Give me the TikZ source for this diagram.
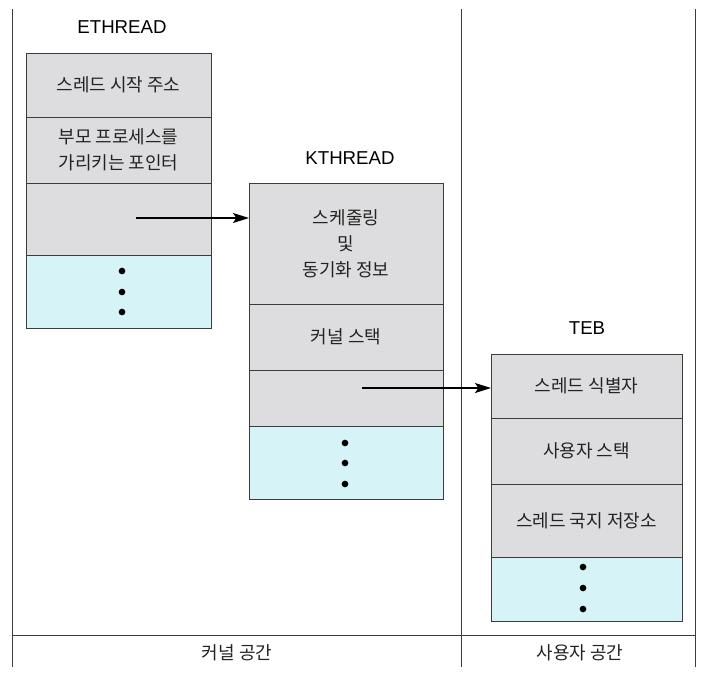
\documentclass[tikz,border=0pt]{standalone}
\usepackage{fontspec}
\setmainfont{Noto Sans CJK KR}
\newfontfamily\latinfont{Liberation Sans}
\usetikzlibrary{arrows.meta}
\definecolor{cellgray}{RGB}{221,221,223}
\definecolor{cellcyan}{RGB}{214,244,248}
\definecolor{linegray}{RGB}{60,60,60}
\definecolor{txt}{RGB}{35,35,35}
\tikzset{
  cell/.style={draw=linegray, line width=0.75pt, fill=cellgray, inner sep=0pt, outer sep=0pt,
    text=txt, align=center, font=\fontsize{13.5}{19.5}\selectfont},
  dotcell/.style={cell, fill=cellcyan},
  title/.style={font=\latinfont\fontsize{14}{16}\selectfont, text=black},
  region/.style={draw=linegray, line width=0.6pt},
  regionlabel/.style={font=\fontsize{13.5}{16}\selectfont, text=txt},
  ptr/.style={line width=1.1pt, -{Stealth[length=12pt,width=7.5pt,inset=2.5pt]}},
  vdot/.style={fill=black, circle, inner sep=0pt, minimum size=5pt}
}
\begin{document}
\begin{tikzpicture}[x=0.75pt,y=-0.75pt]
\useasboundingbox (0,0) rectangle (712,683);
% regions
\coordinate (ltop) at (12,9);
\coordinate (lbot) at (12,667);
\coordinate (mtop) at (461,9);
\coordinate (mbot) at (461,667);
\coordinate (rtop) at (695,9);
\coordinate (rbot) at (695,667);
\coordinate (hl) at (12,635);
\coordinate (hr) at (695,635);
\draw[region] (ltop) -- (lbot);
\draw[region] (mtop) -- (mbot);
\draw[region] (rtop) -- (rbot);
\draw[region] (hl) -- (hr);
\node[regionlabel] (kspace) at (237,653) {커널 공간};
\node[regionlabel] (uspace) at (580,653) {사용자 공간};

% ETHREAD
\node[title] (etitle) at (122,27) {ETHREAD};
\node[cell, minimum width=138.75pt, minimum height=48pt] (e1) at (118.5,85) {스레드 시작 주소};
\node[cell, minimum width=138.75pt, minimum height=49.5pt] (e2) at (118.5,150) {부모 프로세스를\\가리키는 포인터};
\node[cell, minimum width=138.75pt, minimum height=54pt] (e3) at (118.5,219) {};
\node[dotcell, minimum width=138.75pt, minimum height=54.75pt] (e4) at (118.5,291.5) {};
\node[vdot] (ed1) at (122,271) {};
\node[vdot] (ed2) at (122,292) {};
\node[vdot] (ed3) at (122,312) {};

% KTHREAD
\node[title] (ktitle) at (350,158) {KTHREAD};
\node[cell, minimum width=145.5pt, minimum height=90.75pt] (k1) at (346,243.5) {스케줄링\\및\\동기화 정보};
\node[cell, minimum width=145.5pt, minimum height=49.5pt] (k2) at (346,337) {커널 스택};
\node[cell, minimum width=145.5pt, minimum height=42pt] (k3) at (346,398) {};
\node[dotcell, minimum width=145.5pt, minimum height=54.75pt] (k4) at (346,462.5) {};
\node[vdot] (kd1) at (345,443) {};
\node[vdot] (kd2) at (345,463) {};
\node[vdot] (kd3) at (345,484) {};

% TEB
\node[title] (ttitle) at (587,328) {TEB};
\node[cell, minimum width=143.25pt, minimum height=48pt] (t1) at (586.5,386) {스레드 식별자};
\node[cell, minimum width=143.25pt, minimum height=49.5pt] (t2) at (586.5,451) {사용자 스택};
\node[cell, minimum width=143.25pt, minimum height=54.75pt] (t3) at (586.5,520.5) {스레드 국지 저장소};
\node[dotcell, minimum width=143.25pt, minimum height=48pt] (t4) at (586.5,589) {};
\node[vdot] (td1) at (583,567) {};
\node[vdot] (td2) at (583,588) {};
\node[vdot] (td3) at (583,609) {};

% pointers
\coordinate (ep) at (136,218);
\coordinate (kp) at (362,388);
\draw[ptr] (ep) -- (ep -| k1.west);
\draw[ptr] (kp) -- (kp -| t1.west);
\end{tikzpicture}
\end{document}
